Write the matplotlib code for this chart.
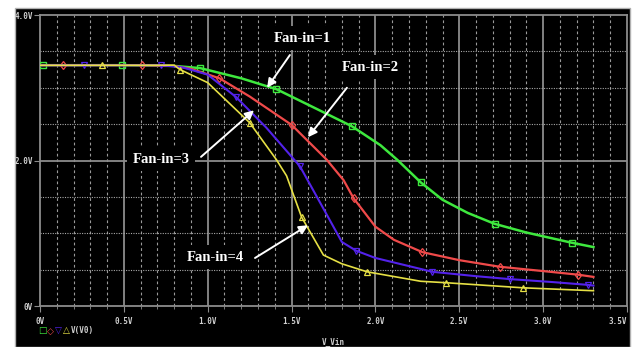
import matplotlib
matplotlib.use('Agg')
import matplotlib.pyplot as plt
from matplotlib.patches import Rectangle
from matplotlib.ticker import MultipleLocator

# DC sweep of the output voltage V(V0) against V_Vin, for gates of fan-in 1..4
fanin1_x = [0.0, 0.018, 0.49, 0.8, 0.955, 1.2, 1.41, 1.64, 1.86, 2.03, 2.13, 2.27, 2.40, 2.55, 2.71, 2.9, 3.17, 3.30]
fanin1_y = [3.31, 3.31, 3.31, 3.30, 3.27, 3.13, 2.98, 2.72, 2.47, 2.21, 2.01, 1.70, 1.46, 1.28, 1.13, 1.01, 0.87, 0.81]

fanin2_x = [0.0, 0.137, 0.61, 0.8, 0.9, 1.07, 1.25, 1.50, 1.71, 1.81, 1.87, 2.0, 2.11, 2.28, 2.5, 2.74, 3.0, 3.21, 3.30]
fanin2_y = [3.31, 3.31, 3.31, 3.30, 3.26, 3.13, 2.88, 2.49, 2.01, 1.73, 1.48, 1.09, 0.91, 0.74, 0.63, 0.54, 0.48, 0.43, 0.40]

fanin3_x = [0.0, 0.26, 0.72, 0.85, 1.0, 1.17, 1.35, 1.55, 1.68, 1.80, 1.885, 2.0, 2.34, 2.6, 2.80, 3.05, 3.27, 3.30]
fanin3_y = [3.31, 3.31, 3.31, 3.28, 3.18, 2.87, 2.45, 1.92, 1.38, 0.88, 0.76, 0.66, 0.47, 0.41, 0.37, 0.33, 0.29, 0.28]

fanin4_x = [0.0, 0.37, 0.80, 0.835, 1.0, 1.25, 1.41, 1.47, 1.56, 1.69, 1.80, 1.95, 2.27, 2.42, 2.88, 3.30]
fanin4_y = [3.31, 3.31, 3.31, 3.25, 3.07, 2.52, 2.01, 1.79, 1.22, 0.70, 0.58, 0.47, 0.34, 0.32, 0.25, 0.21]

x_ticks = [0.0, 0.5, 1.0, 1.5, 2.0, 2.5, 3.0, 3.5]
x_ticklabels = ['0V', '0.5V', '1.0V', '1.5V', '2.0V', '2.5V', '3.0V', '3.5V']
y_ticks = [0.0, 2.0, 4.0]
y_ticklabels = ['0V', '2.0V', '4.0V']

fig = plt.figure(figsize=(6.35, 3.47), dpi=100)
fig.patch.set_facecolor('white')
# black probe window behind the plot
fig.patches.append(Rectangle((15/635, 0), 615/635, 339/347, transform=fig.transFigure,
                             facecolor='black', edgecolor='#b0b0b0', lw=1, zorder=-5))

ax = fig.add_axes([40/635, 41/347, 587/635, 291/347])
ax.set_facecolor('black')
ax.set_xlim(0, 3.5)
ax.set_ylim(0, 4)

# grid: solid major verticals, dashed minor verticals, dotted horizontals
for gx in [0.5, 1.0, 1.5, 2.0, 2.5, 3.0]:
    ax.axvline(gx, color='#8c8c8c', lw=1.3, zorder=1)
for i in range(1, 35):
    if i % 5:
        ax.axvline(i/10, color='#9a9a9a', lw=0.8, ls=(0, (2.5, 2.5)), zorder=1)
for gy in [0.5, 1.0, 1.5, 2.5, 3.0, 3.5]:
    ax.axhline(gy, color='#a8a8a8', lw=0.8, ls=(0, (1, 1.2)), zorder=1)
ax.axhline(2.0, color='#8c8c8c', lw=1.3, zorder=1)

for s in ax.spines.values():
    s.set_color('#8c8c8c')
    s.set_linewidth(1.3)

ax.set_xticks(x_ticks)
ax.set_xticklabels(x_ticklabels)
ax.xaxis.set_minor_locator(MultipleLocator(0.1))
ax.set_yticks(y_ticks)
ax.set_yticklabels(y_ticklabels)
ax.tick_params(axis='both', which='both', colors='#8c8c8c', labelcolor='#d0d0d0',
               labelsize=5.5, direction='out')
ax.tick_params(axis='x', which='major', length=4, pad=4)
ax.tick_params(axis='x', which='minor', length=2)
ax.tick_params(axis='y', which='major', length=4, pad=1)
for lab in ax.get_xticklabels() + ax.get_yticklabels():
    lab.set_family('DejaVu Sans Mono')
    lab.set_fontweight('bold')
ax.get_xticklabels()[-1].set_horizontalalignment('right')

ax.plot(fanin1_x, fanin1_y, color='#3ee83e', lw=1.8, marker='s', ms=4.4, mfc='none',
        mec='#3ee83e', mew=1, markevery=[1, 2, 4, 6, 8, 11, 14, 16], zorder=3)
ax.plot(fanin2_x, fanin2_y, color='#f04a4a', lw=1.6, marker='d', ms=4.4, mfc='none',
        mec='#f04a4a', mew=0.9, markevery=[1, 2, 5, 7, 10, 13, 15, 17], zorder=3)
ax.plot(fanin3_x, fanin3_y, color='#5322ea', lw=1.5, marker='v', ms=4.4, mfc='none',
        mec='#5322ea', mew=0.9, markevery=[1, 2, 5, 7, 10, 12, 14, 16], zorder=3)
ax.plot(fanin4_x, fanin4_y, color='#e6e045', lw=1.2, marker='^', ms=4.4, mfc='none',
        mec='#e6e045', mew=0.9, markevery=[1, 3, 5, 8, 11, 13, 14], zorder=3)

# callout labels with arrows
labels = [('Fan-in=1', (1.562, 3.68), (1.49, 3.45), (1.354, 3.0)),
          ('Fan-in=2', (1.968, 3.285), (1.83, 3.0), (1.598, 2.32)),
          ('Fan-in=3', (0.722, 2.02), (0.96, 2.05), (1.276, 2.69)),
          ('Fan-in=4', (1.044, 0.67), (1.282, 0.66), (1.598, 1.11))]
for txt, pos, tail, head in labels:
    ax.text(pos[0], pos[1], txt, color='white', fontsize=10.5, fontweight='bold',
            family='Liberation Serif', ha='center', va='center', zorder=4,
            bbox=dict(facecolor='black', edgecolor='none', pad=4))
    ax.annotate('', xy=head, xytext=tail, zorder=5,
                arrowprops=dict(arrowstyle='-|>', color='white', lw=1.4, mutation_scale=13,
                                shrinkA=0, shrinkB=0))

# trace legend and x axis title
legend_marks = [('□', '#3ee83e', 42), ('◇', '#f04a4a', 50), ('▽', '#5322ea', 58), ('△', '#e6e045', 66)]
for sym, col, px in legend_marks:
    fig.text(px/635, 16/347, sym, color=col, fontsize=6.5, fontweight='bold', ha='center', va='center')
fig.text(71/635, 16/347, 'V(V0)', color='#d0d0d0', fontsize=5.5, fontweight='bold',
         family='DejaVu Sans Mono', ha='left', va='center')
fig.text(333/635, 5/347, 'V_Vin', color='#d0d0d0', fontsize=5.5, fontweight='bold',
         family='DejaVu Sans Mono', ha='center', va='center')

plt.savefig('out.png', dpi=100, facecolor=fig.get_facecolor())
